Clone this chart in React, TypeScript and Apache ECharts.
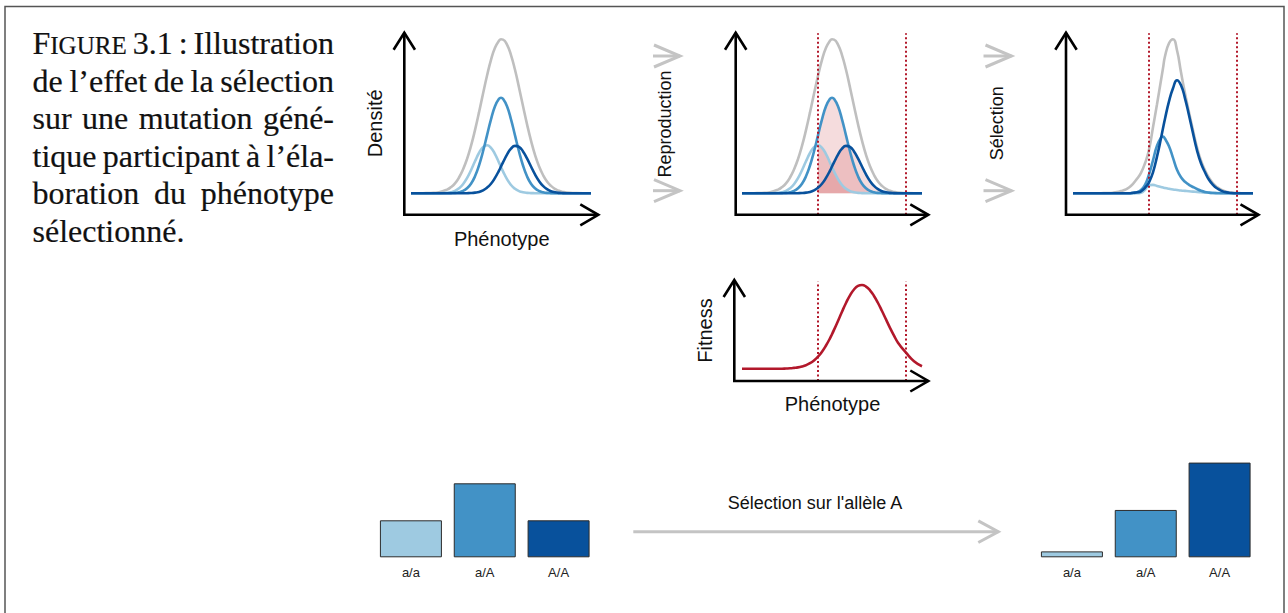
import React, { useEffect, useRef } from "react";
import * as echarts from "echarts";

// ---------- data ----------
// phenotype sample positions (arbitrary units, 0..180 across each panel)
const PHENOTYPE = [0, 4, 12, 20, 28, 36, 40, 44, 48, 52, 56, 60, 64, 68, 72, 76, 80, 84, 88, 90, 92, 96, 100, 104, 108, 112, 116, 120, 124, 128, 132, 136, 140, 144, 148, 152, 156, 164, 172, 180];

// densities before selection (panels 1 and 2)
const DENS_TOTAL = [0, 0, 0.1, 0.3, 1.1, 3.7, 6.2, 10, 15.8, 23.8, 34.2, 47.4, 63.2, 80.9, 99.5, 117.5, 133.5, 145.6, 152.6, 154, 153.7, 148.7, 138.2, 123.5, 105.9, 87.3, 69.2, 52.7, 38.5, 27.1, 18.3, 11.8, 7.4, 4.4, 2.5, 1.4, 0.7, 0.2, 0, 0];
const DENS_aa = [0, 0, 0, 0, 0.1, 0.5, 1.1, 2.4, 5.0, 9.1, 15.2, 23.1, 32.0, 40.3, 46.1, 48, 45.4, 39.2, 30.7, 26.2, 22, 14.2, 8.3, 4.5, 2.2, 1.0, 0.4, 0.2, 0.1, 0, 0, 0, 0, 0, 0, 0, 0, 0, 0, 0];
const DENS_aA = [0, 0, 0, 0, 0, 0.1, 0.2, 0.4, 1.1, 2.4, 5.0, 9.6, 17.0, 27.8, 41.8, 57.9, 74.0, 87.1, 94.5, 95.5, 94.5, 87.1, 74.0, 57.9, 41.8, 27.8, 17.0, 9.6, 5.0, 2.4, 1.1, 0.4, 0.2, 0.1, 0, 0, 0, 0, 0, 0];
const DENS_AA = [0, 0, 0, 0, 0, 0, 0, 0, 0, 0, 0.1, 0.3, 0.7, 1.4, 3.0, 5.6, 9.6, 15.4, 22.7, 26.8, 30.9, 38.6, 44.6, 47.4, 46.4, 41.9, 34.9, 26.8, 18.9, 12.3, 7.4, 4.1, 2.1, 1.0, 0.4, 0.2, 0.1, 0, 0, 0];

// densities after selection (panel 3)
const SEL_TOTAL = [0, 0, 0, 0, 0.1, 0.3, 0.6, 1.2, 2.2, 3.5, 5.8, 9.5, 14.5, 20.5, 30, 43.5, 66, 89, 113, 125, 137, 150, 154, 143, 121, 100, 81, 63, 46, 32.5, 23, 15.5, 10, 6.2, 3.7, 2, 1, 0.3, 0, 0];
const SEL_aa = [0, 0, 0, 0, 0, 0, 0, 0, 0, 0, 0, 0, 0, 0.5, 3.5, 8.2, 8.4, 7.4, 6.3, 5.8, 5.3, 4.5, 3.8, 3.3, 2.8, 2.4, 2, 1.7, 1.3, 1, 0.7, 0.5, 0.4, 0.3, 0.2, 0.15, 0.1, 0, 0, 0];
const SEL_aA = [0, 0, 0, 0, 0, 0, 0, 0, 0, 0, 0, 0.3, 1, 3.4, 8.5, 19, 33, 47.7, 55.7, 56.7, 54.5, 47, 35.4, 23.5, 16, 11.5, 8.5, 6.3, 4.3, 2.6, 1.4, 0.7, 0.3, 0.1, 0, 0, 0, 0, 0, 0];
const SEL_AA = [0, 0, 0, 0, 0, 0, 0, 0, 0, 0, 0, 0.5, 1, 2, 5.5, 11, 21, 36.7, 55, 65, 74.6, 92, 105, 113, 108, 95, 78, 60, 43, 30, 21, 13.5, 8.5, 5, 2.7, 1.3, 0.6, 0, 0, 0];

// fitness function
const FITNESS = [0, 0, 0, 0, 0, 0, 0, 0.2, 0.4, 0.8, 1.3, 2.2, 3.5, 5.5, 8.3, 12, 17, 23.2, 30.4, 34.5, 38.8, 47.8, 57, 65.7, 73.4, 79.2, 82.8, 83.7, 82.1, 78.4, 72.7, 65.7, 57.7, 49.3, 40.9, 33.1, 26, 16, 7.5, 2.5];

// selection window (phenotype units)
const THRESHOLDS = [76, 164];

// genotype frequencies
const GENOTYPES = ["a/a", "a/A", "A/A"];
const FREQ_BEFORE = [0.25, 0.5, 0.25];
const FREQ_AFTER = [0.04, 0.32, 0.64];

// ---------- styles ----------
const GRAY = "#bfbfbf";
const GENO_COLORS = ["#9ecae1", "#4292c6", "#08519c"];
const RED = "#b2182b";
const FILL = "rgba(200,70,75,0.27)";
const SANS = '"Liberation Sans", Arial, Helvetica, sans-serif';
const SERIF = '"Liberation Serif", "Times New Roman", serif';

// layout
const TOP_BASE = 193.3;
const TOP_MIN = -21.5;
const TOP_MAX = 160;
const PANEL_LEFTS = [411, 742, 1073];
const FIT_LEFT = 742;
const FIT_BASE = 368.7;
const FIT_MIN = -12.3;
const FIT_MAX = 87;
const BAR_TOP = 453.7;
const BAR_H = 103.6;

function measure(text: string, font: string): number {
  const c = document.createElement("canvas").getContext("2d");
  if (!c) return text.length * 10;
  c.font = font;
  return c.measureText(text).width;
}

function buildCaption(): any[] {
  const lines: string[][] = [
    ["FIGURE", "3.1", ":", "Illustration"],
    ["de", "l’effet", "de", "la", "sélection"],
    ["sur", "une", "mutation", "géné-"],
    ["tique", "participant", "à", "l’éla-"],
    ["boration", "du", "phénotype"],
    ["sélectionné."],
  ];
  const left = 32.5;
  const right = 334;
  const big = 32;
  const small = 25;
  const els: any[] = [];
  lines.forEach((words, li) => {
    const baseline = 54 + li * 37.5;
    const runsPerWord = words.map((w) =>
      w === "FIGURE"
        ? [
            { t: "F", s: big },
            { t: "IGURE", s: small },
          ]
        : [{ t: w, s: big }]
    );
    const widths = runsPerWord.map((runs) =>
      runs.reduce((a, r) => a + measure(r.t, `${r.s}px ${SERIF}`), 0)
    );
    const total = widths.reduce((a, b) => a + b, 0);
    const last = li === lines.length - 1;
    const gap = last || words.length < 2 ? measure(" ", `${big}px ${SERIF}`) : (right - left - total) / (words.length - 1);
    let x = left;
    runsPerWord.forEach((runs, wi) => {
      let rx = x;
      runs.forEach((r) => {
        const font = `${r.s}px ${SERIF}`;
        els.push({
          type: "text",
          x: rx,
          y: baseline - 0.3375 * r.s,
          silent: true,
          z: 20,
          style: {
            text: r.t,
            x: 0,
            y: 0,
            fontSize: r.s,
            fontFamily: SERIF,
            fill: "#111",
            stroke: "#111",
            lineWidth: 0.2,
            textAlign: "left",
            textVerticalAlign: "middle",
            align: "left",
            verticalAlign: "middle",
          },
        });
        rx += measure(r.t, font);
      });
      x += widths[wi] + gap;
    });
  });
  return els;
}

function label(text: string, x: number, y: number, size: number, rot = 0): any {
  return {
    type: "text",
    x,
    y,
    rotation: rot,
    silent: true,
    z: 20,
    style: {
      text,
      x: 0,
      y: 0,
      fontSize: size,
      fontFamily: SANS,
      fill: "#111",
      textAlign: "center",
      textVerticalAlign: "middle",
      align: "center",
      verticalAlign: "middle",
    },
  };
}

function poly(points: number[][], stroke: string, width: number): any {
  return {
    type: "polyline",
    silent: true,
    z: 15,
    shape: { points },
    style: { stroke, lineWidth: width, fill: null, lineJoin: "miter", lineCap: "butt" },
  };
}

function axes(x0: number, yTop: number, yBase: number, xRight: number): any[] {
  return [
    poly([[x0, yTop], [x0, yBase], [xRight, yBase]], "#000", 2.6),
    poly([[x0 - 10.7, yTop + 17], [x0, yTop], [x0 + 10.7, yTop + 17]], "#000", 2.6),
    poly([[xRight - 18, yBase - 10.5], [xRight, yBase], [xRight - 18, yBase + 10.5]], "#000", 2.6),
  ];
}

function grayArrow(x0: number, x1: number, y: number, head = 20, half = 10.5): any[] {
  return [
    poly([[x0, y], [x1, y]], "#c4c4c4", 3),
    poly([[x1 - head, y - half], [x1, y], [x1 - head, y + half]], "#c4c4c4", 3),
  ];
}

function curve(vals: number[], color: string, gi: number, z: number, extra: any = {}): any {
  return {
    type: "line",
    xAxisIndex: gi,
    yAxisIndex: gi,
    data: PHENOTYPE.map((x, i) => [x, vals[i]]),
    smooth: 0.5,
    symbol: "none",
    showSymbol: false,
    silent: true,
    clip: false,
    z,
    lineStyle: { color, width: 2.6 },
    itemStyle: { color },
    ...extra,
  };
}

function fill(vals: number[], gi: number): any {
  return {
    type: "line",
    xAxisIndex: gi,
    yAxisIndex: gi,
    data: PHENOTYPE.map((x, i) => [x, vals[i]]).filter(
      (p) => p[0] >= THRESHOLDS[0] && p[0] <= THRESHOLDS[1]
    ),
    smooth: 0.5,
    symbol: "none",
    showSymbol: false,
    silent: true,
    z: 1,
    lineStyle: { width: 0, color: "rgba(0,0,0,0)" },
    areaStyle: { color: FILL },
  };
}

function thresholdLines(): any {
  return {
    silent: true,
    symbol: ["none", "none"],
    label: { show: false },
    lineStyle: { color: RED, width: 2, type: [2, 2.5] },
    data: THRESHOLDS.map((x) => ({ xAxis: x })),
  };
}

export default function App() {
  const ref = useRef<HTMLDivElement>(null);

  useEffect(() => {
    if (!ref.current) return;
    const chart = echarts.init(ref.current, null, { renderer: "svg" });

    const topGrid = (left: number) => ({
      left,
      top: TOP_BASE - TOP_MAX,
      width: 180,
      height: TOP_MAX - TOP_MIN,
      outerBoundsMode: "none",
    });

    const grids = [
      topGrid(PANEL_LEFTS[0]),
      topGrid(PANEL_LEFTS[1]),
      topGrid(PANEL_LEFTS[2]),
      { left: FIT_LEFT, top: FIT_BASE - FIT_MAX, width: 180, height: FIT_MAX - FIT_MIN, outerBoundsMode: "none" },
      { left: 374, top: BAR_TOP, width: 221.5, height: BAR_H, outerBoundsMode: "none" },
      { left: 1035, top: BAR_TOP, width: 221.5, height: BAR_H, outerBoundsMode: "none" },
    ];

    const valX = (gi: number) => ({ type: "value", gridIndex: gi, min: 0, max: 180, show: false });
    const valY = (gi: number, min: number, max: number) => ({ type: "value", gridIndex: gi, min, max, show: false });
    const catX = (gi: number) => ({
      type: "category",
      gridIndex: gi,
      data: GENOTYPES,
      axisLine: { show: false },
      axisTick: { show: false },
      splitLine: { show: false },
      axisLabel: { fontSize: 13, color: "#222", margin: 9, fontFamily: SANS },
    });

    const barSeries = (vals: number[], gi: number) => ({
      type: "bar",
      xAxisIndex: gi,
      yAxisIndex: gi,
      barWidth: 62,
      silent: true,
      data: vals.map((v, i) => ({
        value: v,
        itemStyle: { color: GENO_COLORS[i], borderColor: "#2b2b2b", borderWidth: 1 },
      })),
    });

    const graphics: any[] = [
      {
        type: "rect",
        silent: true,
        z: 1,
        shape: { x: 5, y: 6.5, width: 1279, height: 620 },
        style: { fill: null, stroke: "#555", lineWidth: 1.5 },
      },
      ...buildCaption(),
      ...axes(404.3, 32.7, 214.8, 598.3),
      ...axes(735.7, 32.7, 214.8, 928.3),
      ...axes(1066, 32.7, 214.8, 1258.5),
      ...axes(734.3, 280, 381, 928.3),
      label("Densité", 375, 123.3, 20, Math.PI / 2),
      label("Phénotype", 501.7, 238.5, 20),
      label("Reproduction", 665, 124, 18, Math.PI / 2),
      label("Sélection", 996.7, 123.3, 18, Math.PI / 2),
      label("Fitness", 705, 330.5, 20, Math.PI / 2),
      label("Phénotype", 832.5, 403.5, 20),
      label("Sélection sur l'allèle A", 815, 503, 18),
      ...grayArrow(653, 680, 56, 26, 11),
      ...grayArrow(653, 680, 190.7, 26, 11),
      ...grayArrow(983.5, 1011.5, 56, 26, 11),
      ...grayArrow(983.5, 1011.5, 190.7, 26, 11),
      ...grayArrow(633.3, 998.3, 531.7, 20, 10.8),
    ];

    const option: any = {
      animation: false,
      backgroundColor: "#ffffff",
      grid: grids,
      xAxis: [valX(0), valX(1), valX(2), valX(3), catX(4), catX(5)],
      yAxis: [
        valY(0, TOP_MIN, TOP_MAX),
        valY(1, TOP_MIN, TOP_MAX),
        valY(2, TOP_MIN, TOP_MAX),
        valY(3, FIT_MIN, FIT_MAX),
        valY(4, 0, 0.7),
        valY(5, 0, 0.7),
      ],
      series: [
        // panel 1: initial population
        curve(DENS_TOTAL, GRAY, 0, 2),
        curve(DENS_aa, GENO_COLORS[0], 0, 3),
        curve(DENS_aA, GENO_COLORS[1], 0, 4),
        curve(DENS_AA, GENO_COLORS[2], 0, 5),
        // panel 2: reproduction (shaded selection window)
        fill(DENS_aa, 1),
        fill(DENS_aA, 1),
        fill(DENS_AA, 1),
        curve(DENS_TOTAL, GRAY, 1, 2, { markLine: thresholdLines() }),
        curve(DENS_aa, GENO_COLORS[0], 1, 3),
        curve(DENS_aA, GENO_COLORS[1], 1, 4),
        curve(DENS_AA, GENO_COLORS[2], 1, 5),
        // panel 3: after selection
        curve(SEL_TOTAL, GRAY, 2, 2, { markLine: thresholdLines() }),
        curve(SEL_aa, GENO_COLORS[0], 2, 3),
        curve(SEL_aA, GENO_COLORS[1], 2, 4),
        curve(SEL_AA, GENO_COLORS[2], 2, 5),
        // fitness
        curve(FITNESS, RED, 3, 4, { markLine: thresholdLines() }),
        // genotype frequencies
        barSeries(FREQ_BEFORE, 4),
        barSeries(FREQ_AFTER, 5),
      ],
      graphic: { elements: graphics },
    };

    chart.setOption(option);
    return () => {
      chart.dispose();
    };
  }, []);

  return (
    <div
      ref={ref}
      style={{ position: "absolute", left: 0, top: 0, width: 1288, height: 613, background: "#fff" }}
    />
  );
}
